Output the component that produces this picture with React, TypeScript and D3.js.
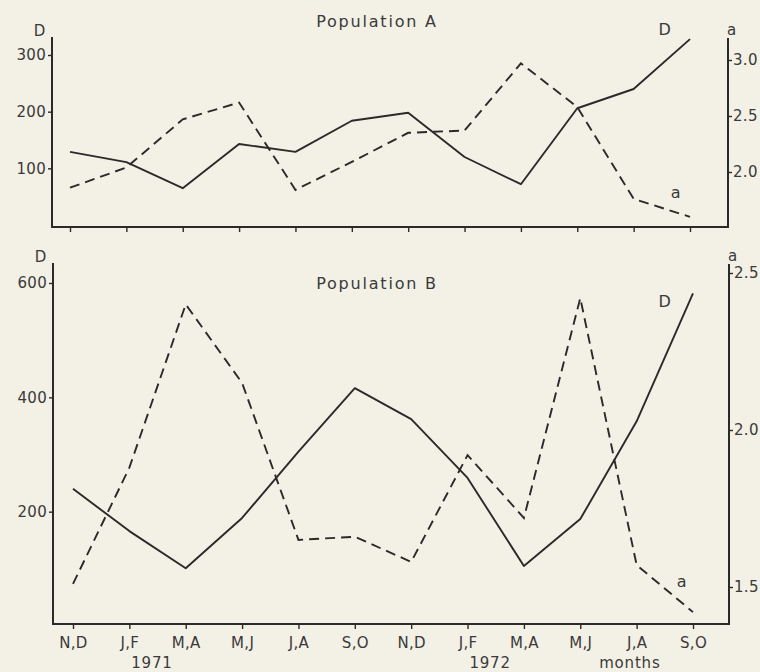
import React, { useEffect, useRef } from "react";
import * as d3 from "d3";

// two-monthly periods, Nov 1970 - Oct 1972
const periods = ["N,D", "J,F", "M,A", "M,J", "J,A", "S,O", "N,D", "J,F", "M,A", "M,J", "J,A", "S,O"];

// Population A
const densityA = [129, 111, 65, 143, 129, 184, 198, 120, 72, 206, 240, 328];
const alphaA = [1.86, 2.04, 2.47, 2.62, 1.84, 2.09, 2.35, 2.37, 2.97, 2.58, 1.76, 1.6];

// Population B
const densityB = [240, 166, 101, 189, 305, 416, 362, 259, 105, 187, 358, 582];
const alphaB = [1.51, 1.88, 2.4, 2.15, 1.65, 1.66, 1.58, 1.92, 1.72, 2.42, 1.57, 1.42];

const dTicksA = [100, 200, 300];
const aTicksA = [2.0, 2.5, 3.0];
const dTicksB = [200, 400, 600];
const aTicksB = [1.5, 2.0, 2.5];

const yearLabels = [
  { text: "1971", at: 1.4 },
  { text: "1972", at: 7.4 },
  { text: "months", at: 9.88 },
];

const INK = "#2a2a2a";
const FONT = "'DejaVu Sans', sans-serif";

function drawPanel(svg, opt) {
  const { left, right, top, bottom, x0, x1, dDomain, dRange, aDomain, aRange,
    density, alpha, dTicks, aTicks, title, titleY, showLabels, dLabel, aLabel } = opt;

  const x = d3.scaleLinear().domain([0, periods.length - 1]).range([x0, x1]);
  const yD = d3.scaleLinear().domain(dDomain).range(dRange);
  const yA = d3.scaleLinear().domain(aDomain).range(aRange);

  const g = svg.append("g");

  // frame: left, right and bottom axis lines
  g.append("path")
    .attr("d", `M${left},${top}V${bottom}H${right}V${top + 1}`)
    .attr("fill", "none")
    .attr("stroke", INK)
    .attr("stroke-width", 2);

  const styleAxis = (sel) => {
    sel.select(".domain").remove();
    sel.selectAll("line").attr("stroke", INK).attr("stroke-width", 1.4);
    sel.selectAll("text")
      .attr("fill", "#3a3a3a")
      .style("font-family", FONT)
      .style("font-size", "15px")
      .style("letter-spacing", "0.3px");
  };

  g.append("g")
    .attr("transform", `translate(${left},0)`)
    .call(d3.axisLeft(yD).tickValues(dTicks).tickSize(4).tickPadding(2).tickFormat(d3.format("d")))
    .call(styleAxis);

  g.append("g")
    .attr("transform", `translate(${right},0)`)
    .call(d3.axisRight(yA).tickValues(aTicks).tickSize(4).tickPadding(1).tickFormat(d3.format(".1f")))
    .call(styleAxis);

  g.append("g")
    .attr("transform", `translate(0,${bottom})`)
    .call(d3.axisBottom(x).tickValues(d3.range(periods.length)).tickSize(5).tickPadding(8)
      .tickFormat((i) => (showLabels ? periods[i] : "")))
    .call(styleAxis);

  const line = (ys, vals) => d3.line().x((_, i) => x(i)).y((v) => ys(v))(vals);

  g.append("path")
    .attr("d", line(yD, density))
    .attr("fill", "none")
    .attr("stroke", INK)
    .attr("stroke-width", 1.9)
    .attr("stroke-linejoin", "round");

  g.append("path")
    .attr("d", line(yA, alpha))
    .attr("fill", "none")
    .attr("stroke", INK)
    .attr("stroke-width", 1.9)
    .attr("stroke-dasharray", "10,6");

  const label = (tx, ty, text, size = 15, spacing = 0.8) =>
    g.append("text")
      .attr("x", tx)
      .attr("y", ty)
      .attr("text-anchor", "middle")
      .attr("fill", "#3a3a3a")
      .style("font-family", FONT)
      .style("font-size", size + "px")
      .style("letter-spacing", spacing + "px")
      .text(text);

  // axis titles
  label(left - 12, top - 1, "D");
  label(right + 4, top - 2, "a");
  label(377, titleY, title, 16, 1.8);

  // line labels
  label(dLabel[0], dLabel[1], "D", 16);
  label(aLabel[0], aLabel[1], "a", 16);

  if (showLabels) {
    yearLabels.forEach((d) => label(x(d.at), bottom + 44, d.text));
  }
}

export default function App() {
  const ref = useRef(null);

  useEffect(() => {
    const svg = d3.select(ref.current);
    svg.selectAll("*").remove();

    svg.append("rect").attr("width", 760).attr("height", 672).attr("fill", "#f3f0e5");

    drawPanel(svg, {
      left: 52, right: 728, top: 37, bottom: 227, x0: 70, x1: 690,
      dDomain: [0, 300], dRange: [225, 55],
      aDomain: [2.0, 3.0], aRange: [172, 60],
      density: densityA, alpha: alphaA, dTicks: dTicksA, aTicks: aTicksA,
      title: "Population A", titleY: 27, showLabels: false,
      dLabel: [665, 35], aLabel: [676, 198],
    });

    drawPanel(svg, {
      left: 53, right: 729, top: 263, bottom: 624, x0: 73, x1: 693,
      dDomain: [0, 600], dRange: [626, 283],
      aDomain: [1.5, 2.5], aRange: [587, 273],
      density: densityB, alpha: alphaB, dTicks: dTicksB, aTicks: aTicksB,
      title: "Population B", titleY: 289, showLabels: true,
      dLabel: [665, 307], aLabel: [682, 587],
    });
  }, []);

  return (
    <svg ref={ref} width={760} height={672}
      style={{ position: "absolute", left: 0, top: 0, display: "block" }} />
  );
}
